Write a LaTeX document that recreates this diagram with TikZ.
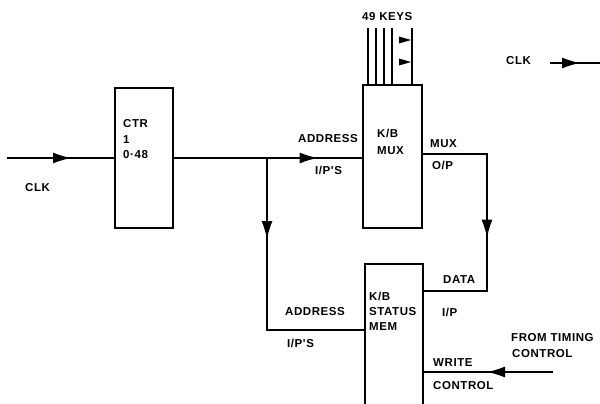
\documentclass[tikz,border=0pt]{standalone}
\usepackage{fontspec}
\newfontfamily\lbl{Liberation Sans}[LetterSpace=5]
\usetikzlibrary{arrows.meta,decorations.markings}
\begin{document}
\begin{tikzpicture}[x=1pt,y=-1pt,
  wire/.style={line width=1.3pt},
  blk/.style={draw,line width=1.3pt,minimum width=#1,inner sep=0pt},
  txt/.style={anchor=base west,inner sep=0pt,font=\lbl\bfseries\fontsize{11.5}{13}\selectfont},
  arrat/.style={postaction={decorate},decoration={markings,
      mark=at position #1 with {\arrow{Latex[length=18pt,width=11pt]}}}},
  tri/.style={fill=black}
]
\clip (0,0) rectangle (600,404);
% blocks
\node[blk=58pt,minimum height=140pt] (ctr) at (144,158) {};
\node[blk=59pt,minimum height=143pt] (mux) at (392.5,156.5) {};
\node[blk=58pt,minimum height=150pt] (mem) at (394,339) {};
% block texts
\node[txt] (t1) at (123,127) {CTR};
\node[txt] (t2) at (123,143) {1};
\node[txt] (t3) at (123,158) {0·48};
\node[txt] (t4) at (377,137.5) {K/B};
\node[txt] (t5) at (377,154.5) {MUX};
\node[txt] (t6) at (369,300.5) {K/B};
\node[txt] (t7) at (369,315.5) {STATUS};
\node[txt] (t8) at (369,330.5) {MEM};
% labels
\node[txt] (l1) at (25,191) {CLK};
\node[txt] (l2) at (298,142) {ADDRESS};
\node[txt] (l3) at (315,174) {I/P'S};
\node[txt] (l4) at (430,147) {MUX};
\node[txt] (l5) at (432,169) {O/P};
\node[txt] (l6) at (443,283) {DATA};
\node[txt] (l7) at (442,316) {I/P};
\node[txt] (l8) at (285,315.5) {ADDRESS};
\node[txt] (l9) at (287,347) {I/P'S};
\node[txt] (l10) at (433,366) {WRITE};
\node[txt] (l11) at (433,389) {CONTROL};
\node[txt] (l12) at (511,341) {FROM TIMING};
\node[txt] (l13) at (512,357) {CONTROL};
\node[txt] (l14) at (362,21) {49 KEYS};
\node[txt] (l15) at (506,65) {CLK};
% coordinates
\coordinate (clkin) at (7,158);
\coordinate (br) at (267,158);
\coordinate (maddr) at (mem.west |- 0,330);
\coordinate (mout) at (mux.east |- 0,154);
\coordinate (turn) at (487,154);
\coordinate (mdata) at (mem.east |- 0,291);
\coordinate (wsrc) at (553,372);
\coordinate (wdst) at (mem.east |- 0,372);
\coordinate (ck1) at (550,63);
\coordinate (ck2) at (600,63);
% connectors
\draw[wire,arrat=64pt] (clkin) -- (ctr.west |- clkin);
\draw[wire,arrat=144pt] (ctr.east |- br) -- (mux.west |- br);
\draw[wire,arrat=81pt] (br) |- (maddr);
\draw[wire,arrat=148pt] (mout) -- (turn) |- (mdata);
\draw[wire,arrat=66pt] (wsrc) -- (wdst);
\draw[wire,arrat=30pt] (ck1) -- (ck2);
% keys
\foreach \x in {368,376,384,392,412}
  \draw[wire] (\x,28) -- (\x,0 |- mux.north);
\fill[tri] (399,36.5) -- (411,40) -- (399,43.5) -- cycle;
\fill[tri] (399,58.5) -- (411,62) -- (399,65.5) -- cycle;
\end{tikzpicture}
\end{document}
